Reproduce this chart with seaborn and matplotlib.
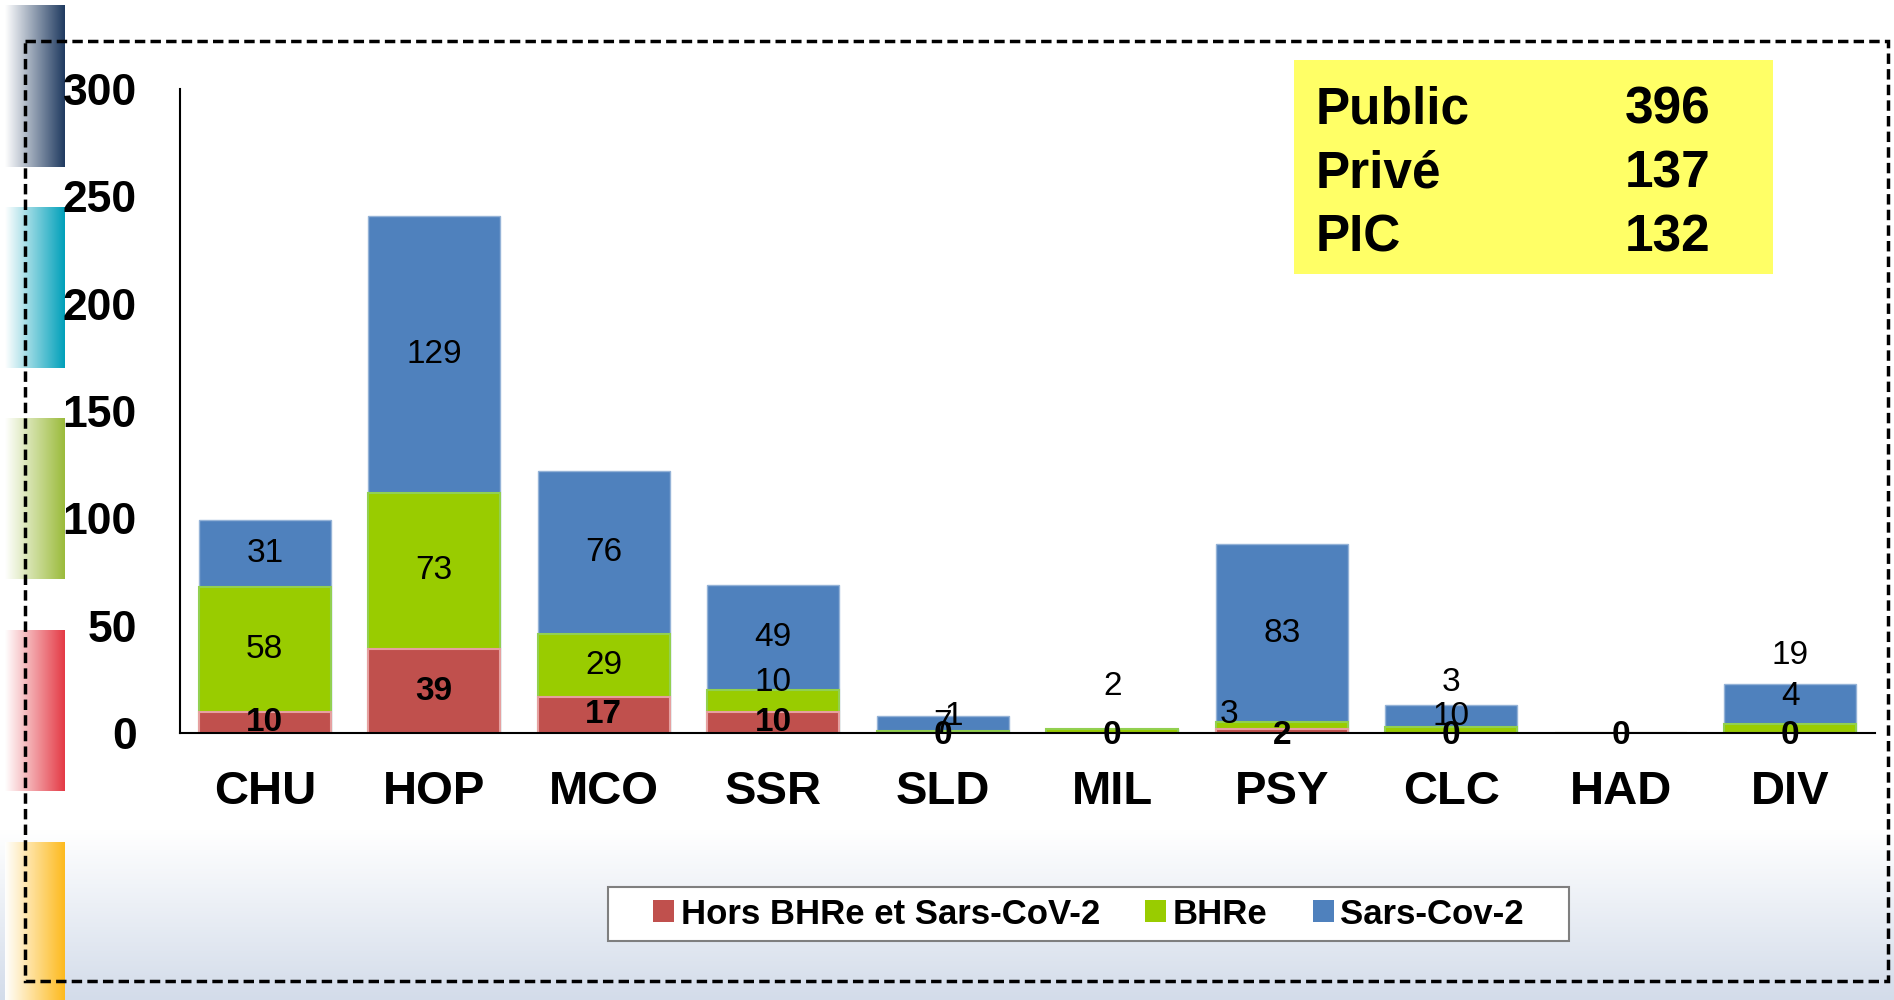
import matplotlib
matplotlib.use("Agg")
import matplotlib.pyplot as plt
import matplotlib.colors as mcolors
import numpy as np
import pandas as pd
import seaborn as sns
from matplotlib import font_manager
from matplotlib.patches import Rectangle, Patch

# data
categories = ["CHU", "HOP", "MCO", "SSR", "SLD", "MIL", "PSY", "CLC", "HAD", "DIV"]
hors = [10, 39, 17, 10, 0, 0, 2, 0, 0, 0]
bhre = [58, 73, 29, 10, 1, 2, 3, 3, 0, 4]
sars = [31, 129, 76, 49, 7, 0, 83, 10, 0, 19]
series_names = ["Hors BHRe et Sars-CoV-2", "BHRe", "Sars-Cov-2"]
summary_labels = ["Public", "Privé", "PIC"]
summary_values = [396, 137, 132]
y_ticks = [0, 50, 100, 150, 200, 250, 300]

RED, GREEN, BLUE = "#C0504D", "#99CC00", "#4F81BD"
W, H = 1894, 1000

sns.set_style("white")
plt.rcParams["font.family"] = ["Liberation Sans", "DejaVu Sans"]
plt.rcParams["text.color"] = "black"
plt.rcParams["xtick.labelcolor"] = "black"
plt.rcParams["ytick.labelcolor"] = "black"
installed = {f.name for f in font_manager.fontManager.ttflist}
narrow = "Liberation Sans Narrow" in installed

df = pd.DataFrame({"cat": categories, "hors": hors, "bhre": bhre, "sars": sars})
df["top_bhre"] = df["hors"] + df["bhre"]
df["top_sars"] = df["top_bhre"] + df["sars"]

fig = plt.figure(figsize=(W / 100, H / 100), dpi=100)

# background decorations (pixel coordinates)
bg = fig.add_axes([0, 0, 1, 1], zorder=-5)
bg.axis("off")
grad = np.linspace(0, 1, 256)
bottom_cmap = mcolors.LinearSegmentedColormap.from_list("bot", ["#FFFFFF", "#D3DCEA"])
bg.imshow(grad[:, None], extent=(0, W, 1000, 830), cmap=bottom_cmap, aspect="auto")
stripes = [(5, 167, "#1F3A60"), (207, 368, "#00A0BA"), (418, 579, "#9BBB3B"),
           (630, 791, "#E43A45"), (842, 1000, "#FDBA1E")]
for y0, y1, col in stripes:
    cm = mcolors.LinearSegmentedColormap.from_list("s", ["#FFFFFF", col])
    bg.imshow(grad[None, :], extent=(5, 65, y1, y0), cmap=cm, aspect="auto")
bg.add_patch(Rectangle((25, 41), 1863, 940, fill=False, ec="black", lw=2.5, ls=(0, (3, 1.5))))
bg.add_patch(Rectangle((1294, 60), 479, 214, fc="#FFFF66", ec="none"))
for i, (lab, val) in enumerate(zip(summary_labels, summary_values)):
    yb = 123 + i * 64
    bg.text(1316, yb, lab, fontsize=37, fontweight="bold", va="baseline", ha="left")
    bg.text(1625, yb, str(val), fontsize=37, fontweight="bold", va="baseline", ha="left")
# legend frame drawn separately so its padding matches the original
bg.add_patch(Rectangle((608, 887), 961, 54, fc="white", ec="#7F7F7F", lw=1.5))
bg.set_xlim(0, W)
bg.set_ylim(H, 0)

# main chart
ax = fig.add_axes([180 / W, 1 - 733 / H, (1875 - 180) / W, (733 - 89) / H])
ax.patch.set_alpha(0)
bw = 0.78
sns.barplot(data=df, x="cat", y="top_sars", color=BLUE, saturation=1, width=bw,
            errorbar=None, ax=ax, edgecolor="#95B3D7", linewidth=1)
sns.barplot(data=df, x="cat", y="top_bhre", color=GREEN, saturation=1, width=bw,
            errorbar=None, ax=ax, edgecolor="#92D050", linewidth=1.5)
sns.barplot(data=df, x="cat", y="hors", color=RED, saturation=1, width=bw,
            errorbar=None, ax=ax, edgecolor="#E6A0A0", linewidth=1.5)

ax.set_xlim(-0.5, len(categories) - 0.5)
ax.set_ylim(0, 300)
ax.set_yticks(y_ticks)
ax.set_xlabel("")
ax.set_ylabel("")
for s in ["top", "right"]:
    ax.spines[s].set_visible(False)
for s in ["left", "bottom"]:
    ax.spines[s].set_color("black")
    ax.spines[s].set_linewidth(1.5)
ax.tick_params(axis="y", length=11, width=1.5, color="#8C8C8C", pad=20,
               labelsize=32, direction="out")
for t in ax.get_yticklabels():
    t.set_fontweight("bold")
ax.set_xticks(np.arange(-0.5, len(categories), 1), minor=True)
ax.tick_params(axis="x", which="major", length=0, pad=27, labelsize=34)
ax.tick_params(axis="x", which="minor", length=11, width=1.5, color="#6E6E6E", direction="out")
for t in ax.get_xticklabels():
    t.set_fontweight("bold")

# data labels: centred on segment, with manual shifts where the original moved them
label_pos = {
    ("SSR", "bhre"): (0, 23.6), ("SLD", "bhre"): (0.065, 7.5), ("SLD", "sars"): (0, 3.8),
    ("MIL", "bhre"): (0, 21.5), ("PSY", "bhre"): (-0.31, 8.4), ("CLC", "bhre"): (0, 23.7),
    ("CLC", "sars"): (0, 7.9), ("DIV", "bhre"): (0, 17.0), ("DIV", "sars"): (0, 36.3),
}
for i, row in df.iterrows():
    segs = [("hors", 0, row["hors"]), ("bhre", row["hors"], row["bhre"]),
            ("sars", row["top_bhre"], row["sars"])]
    for key, base, val in segs:
        if key != "hors" and val == 0:
            continue
        dx, y = 0, base + val / 2
        if key == "hors" and val <= 2:
            y = -1.2
        if (row["cat"], key) in label_pos:
            dx, y = label_pos[(row["cat"], key)]
        ax.text(i + dx, y, str(val), ha="center", va="center", fontsize=24,
                fontweight="bold" if key == "hors" else "normal", zorder=5)

handles = [Patch(facecolor=c, edgecolor="none") for c in (RED, GREEN, BLUE)]
leg_font = {"family": ["Liberation Sans Narrow" if narrow else "Liberation Sans"],
            "weight": "bold", "size": 28 if narrow else 25}
leg = fig.legend(handles, series_names, loc="center", ncol=3,
                 bbox_to_anchor=((608 + 1569) / 2 / W, 1 - (887 + 941) / 2 / H),
                 prop=leg_font, frameon=False,
                 handlelength=0.6, handleheight=0.6, handletextpad=0.2,
                 columnspacing=1.3, borderpad=0.2, borderaxespad=0)

fig.savefig("out.png", dpi=100)
